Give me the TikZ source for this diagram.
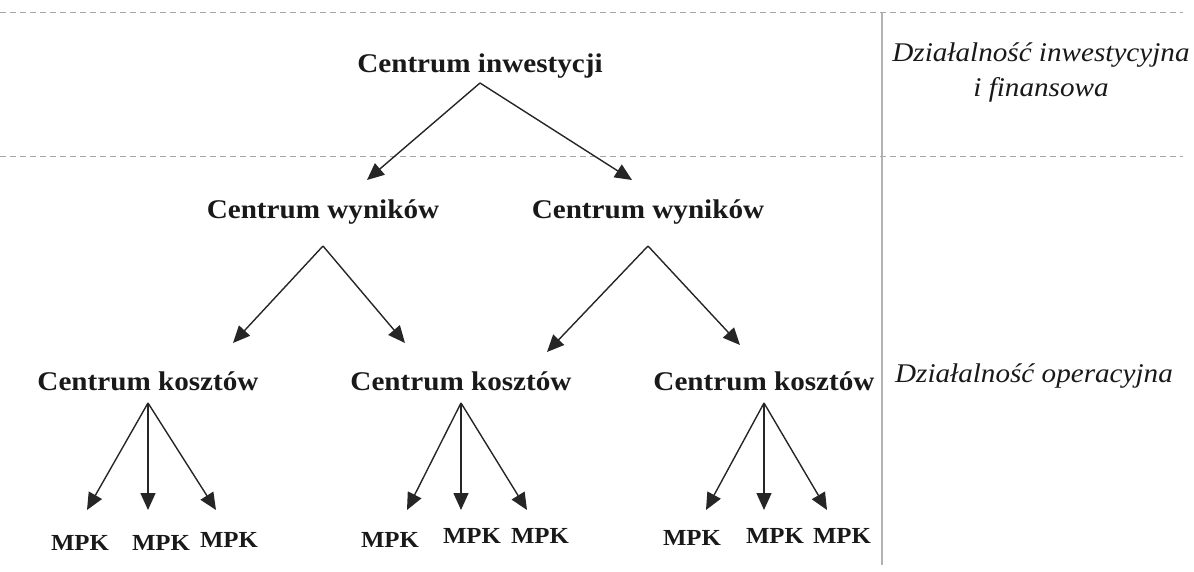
\documentclass[tikz,border=0pt]{standalone}
\usepackage{fontspec}
\setmainfont{Liberation Serif}[FakeStretch=1.08]
\usetikzlibrary{arrows.meta}

\begin{document}
\begin{tikzpicture}[
    x=0.5pt, y=-0.5pt,
    centre/.style={font=\bfseries\fontsize{13.5}{16}\selectfont, anchor=base, inner sep=0pt},
    mpk/.style={font=\bfseries\fontsize{11.5}{13}\selectfont, anchor=base, inner sep=0pt},
    area/.style={font=\itshape\fontsize{13.5}{17.5}\selectfont, align=center, anchor=base, inner sep=0pt},
    arr/.style={-{Triangle[length=8.5pt, width=7.5pt]}, line width=0.7pt, draw=black!85},
    sep/.style={dash pattern=on 3pt off 2pt, draw=black!35, line width=0.5pt},
    every node/.style={text=black!90}
]

\useasboundingbox (0,0) rectangle (1194,572);

% dividers
\coordinate (L1) at (0,13);
\coordinate (R1) at (1183,13);
\coordinate (L2) at (0,157);
\coordinate (R2) at (1183,157);
\coordinate (Vt) at (882,13);
\coordinate (Vb) at (882,565);

\draw[sep] (L1) -- (R1);
\draw[sep] (L2) -- (R2);
\draw[draw=black!30, line width=1pt] (Vt) -- (Vb);

% centres
\node[centre] (ci) at (480,73) {Centrum inwestycji};

\node[centre] (cw1) at (323,219) {Centrum wyników};
\node[centre] (cw2) at (648,219) {Centrum wyników};

\node[centre] (ck1) at (148,390) {Centrum kosztów};
\node[centre] (ck2) at (461,390) {Centrum kosztów};
\node[centre] (ck3) at (764,390) {Centrum kosztów};

\node[mpk] (m11) at (80,550) {MPK};
\node[mpk] (m12) at (161,550) {MPK};
\node[mpk] (m13) at (229,547) {MPK};

\node[mpk] (m21) at (390,547) {MPK};
\node[mpk] (m22) at (472,543) {MPK};
\node[mpk] (m23) at (540,543) {MPK};

\node[mpk] (m31) at (692,545) {MPK};
\node[mpk] (m32) at (775,543) {MPK};
\node[mpk] (m33) at (842,543) {MPK};

% areas
\node[area] (inv) at (1041,97) {Działalność inwestycyjna\\i finansowa};
\node[area] (ope) at (1034,382) {Działalność operacyjna};

% arrow tips
\coordinate (t1) at (367,180);
\coordinate (t2) at (632,180);
\coordinate (t3) at (233,343);
\coordinate (t4) at (405,343);
\coordinate (t5) at (547,352);
\coordinate (t6) at (740,345);

\draw[arr] ([yshift=-5pt]ci.base) -- (t1);
\draw[arr] ([yshift=-5pt]ci.base) -- (t2);

\draw[arr] ([yshift=-13.5pt]cw1.base) -- (t3);
\draw[arr] ([yshift=-13.5pt]cw1.base) -- (t4);
\draw[arr] ([yshift=-13.5pt]cw2.base) -- (t5);
\draw[arr] ([yshift=-13.5pt]cw2.base) -- (t6);

% cost centres to MPK
\coordinate (s11) at (87,510);
\coordinate (s12) at (148,510);
\coordinate (s13) at (216,510);
\coordinate (s21) at (407,510);
\coordinate (s22) at (461,510);
\coordinate (s23) at (527,510);
\coordinate (s31) at (706,510);
\coordinate (s32) at (764,510);
\coordinate (s33) at (827,510);

\foreach \c/\a/\b/\d in {ck1/s11/s12/s13, ck2/s21/s22/s23, ck3/s31/s32/s33}{
  \draw[arr] ([yshift=-6.5pt]\c.base) -- (\a);
  \draw[arr] ([yshift=-6.5pt]\c.base) -- (\b);
  \draw[arr] ([yshift=-6.5pt]\c.base) -- (\d);
}

\end{tikzpicture}
\end{document}
